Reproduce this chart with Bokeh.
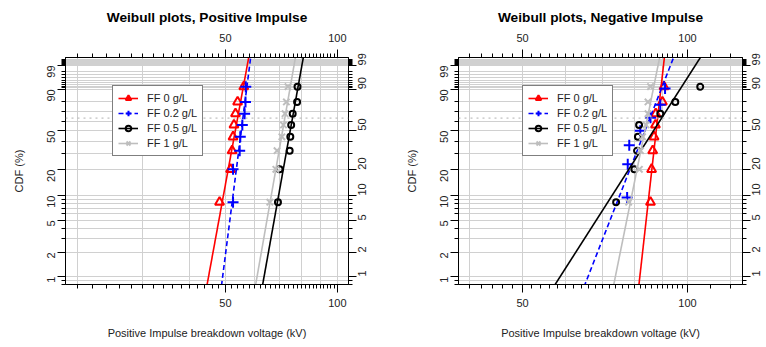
import math

from bokeh.embed import file_html
from bokeh.layouts import row
from bokeh.models import (CustomJSTickFormatter, FixedTicker, Grid, Legend, LegendItem,
                          LinearAxis, LogAxis, LogScale, PrintfTickFormatter, Range1d, Span)
from bokeh.plotting import figure
from bokeh.resources import INLINE

FONT = "Liberation Sans"

SERIES = ["FF 0 g/L", "FF 0.2 g/L", "FF 0.5 g/L", "FF 1 g/L"]
COLORS = ["#ff0000", "#0000ff", "#000000", "#bebebe"]
MARKERS = ["triangle", "cross", "circle", "x"]
MARKER_SIZES = [9, 11, 6, 9]
DASHES = ["solid", "5 3", "solid", "solid"]

# Breakdown voltages (kV), positive impulse, sorted ascending
POS_FF0 = [48.2, 51.6, 52.1, 52.4, 52.7, 53.2, 53.9, 56.0]
POS_FF02 = [52.4, 52.4, 54.6, 54.8, 55.5, 56.3, 56.6, 56.7]
POS_FF05 = [69.2, 69.9, 74.4, 74.7, 75.1, 75.8, 77.9, 78.1]
POS_FF1 = [65.8, 68.3, 68.8, 70.9, 71.6, 72.3, 72.9, 73.6]

# Breakdown voltages (kV), negative impulse, sorted ascending
NEG_FF0 = [85.6, 86.0, 86.4, 86.9, 87.4, 87.5, 90.0, 90.6]
NEG_FF02 = [77.6, 77.8, 78.3, 82.0, 85.6, 89.2, 91.0]
NEG_FF05 = [74.1, 80.0, 80.9, 81.2, 81.6, 89.2, 95.0, 105.5]
NEG_FF1 = [78.1, 81.7, 82.1, 82.8, 84.0, 84.7, 84.7, 85.6]

# Fitted two-parameter Weibull lines: shape (beta) and scale (eta, kV)
POS_SHAPE = [25.6, 36.7, 26.2, 26.8]
POS_SCALE = [53.9, 55.7, 75.7, 72.2]
NEG_SHAPE = [61.7, 17.7, 10.8, 34.2]
NEG_SCALE = [88.2, 85.4, 89.7, 84.5]

# Probability axis (percent)
CDF_LABELLED = [1, 2, 5, 10, 20, 50, 90, 99]
CDF_GRID = ([0.8, 0.9] + list(range(1, 10)) + list(range(10, 100, 10))
            + list(range(91, 100)) + [99.1, 99.2, 99.3, 99.4, 99.5, 99.6, 99.7])

# Voltage axis (kV)
KV_LABELLED = [50, 100]
KV_MINOR = list(range(20, 101, 2)) + [110, 120]
KV_GRID = [20, 30, 40, 50, 60, 70, 80, 90, 100, 120]

FRAME_H = 227


def wb(pct):
    """Weibull probability-paper coordinate of a cumulative percentage."""
    return math.log(-math.log(1.0 - pct / 100.0))


W_BOT, W_TOP = -4.832, 1.759


def benard(n):
    return [100.0 * (i + 1 - 0.3) / (n + 0.4) for i in range(n)]


def style_axis(ax, label_standoff=6, title_standoff=14):
    ax.axis_line_color = "black"
    ax.major_tick_line_color = "black"
    ax.minor_tick_line_color = "black"
    ax.major_tick_out = 8
    ax.major_tick_in = 0
    ax.minor_tick_out = 4
    ax.minor_tick_in = 0
    ax.major_label_text_font = FONT
    ax.major_label_text_font_size = "11px"
    ax.major_label_text_color = "#222222"
    ax.major_label_standoff = label_standoff
    ax.axis_label_text_font = FONT
    ax.axis_label_text_font_size = "11px"
    ax.axis_label_text_font_style = "normal"
    ax.axis_label_text_color = "#222222"
    ax.axis_label_standoff = title_standoff


def panel(title, groups, shapes, scales, xr, border_left, border_right, frame_w, legend_x):
    kv_ticker = FixedTicker(ticks=KV_LABELLED, minor_ticks=KV_MINOR)
    cdf_ticker = FixedTicker(ticks=[wb(q) for q in CDF_LABELLED],
                             minor_ticks=[wb(q) for q in CDF_GRID])
    cdf_fmt = CustomJSTickFormatter(
        code="return String(Math.round(100*(1-Math.exp(-Math.exp(tick)))));")

    p = figure(x_range=Range1d(*xr), y_range=Range1d(W_BOT, W_TOP),
               x_axis_type=None, y_axis_type=None,
               frame_width=frame_w, frame_height=FRAME_H,
               min_border_left=border_left, min_border_right=border_right,
               min_border_top=57, min_border_bottom=63,
               output_backend="svg", toolbar_location=None,
               background_fill_color="white", border_fill_color="white",
               outline_line_color="black", outline_line_width=1)
    p.x_scale = LogScale()

    p.title.text = title
    p.title.align = "center"
    p.title.text_font = FONT
    p.title.text_font_size = "13.7px"
    p.title.text_font_style = "bold"
    p.title.text_color = "black"
    p.title.standoff = 11

    bottom = LogAxis(ticker=kv_ticker, formatter=PrintfTickFormatter(format="%d"),
                     axis_label="Positive Impulse breakdown voltage (kV)")
    top = LogAxis(ticker=kv_ticker, formatter=PrintfTickFormatter(format="%d"))
    left_ax = LinearAxis(ticker=cdf_ticker, formatter=cdf_fmt, axis_label="CDF (%)",
                         major_label_orientation=math.pi / 2)
    right_ax = LinearAxis(ticker=cdf_ticker, formatter=cdf_fmt,
                          major_label_orientation=math.pi / 2)
    style_axis(bottom, 6, 17)
    style_axis(top, 8, 0)
    style_axis(left_ax, 6, 16)
    style_axis(right_ax, 6, 0)
    p.add_layout(bottom, "below")
    p.add_layout(top, "above")
    p.add_layout(left_ax, "left")
    p.add_layout(right_ax, "right")

    xg = Grid(dimension=0, ticker=FixedTicker(ticks=KV_GRID))
    yg = Grid(dimension=1, ticker=FixedTicker(ticks=[wb(q) for q in CDF_GRID]))
    for g in [xg, yg]:
        g.grid_line_color = "#d0d0d0"
        g.grid_line_width = 1
        p.add_layout(g, "center")

    # characteristic-life level (63.2 %)
    p.add_layout(Span(location=0.0, dimension="width", line_color="#b0b0b0",
                      line_dash="dotted", line_width=1))

    items = []
    for k, volts in enumerate(groups):
        ranks = [wb(q) for q in benard(len(volts))]
        ws = [W_BOT - 0.5, W_TOP + 0.5]
        vs = [scales[k] * math.exp(w / shapes[k]) for w in ws]
        lr = p.line(vs, ws, line_color=COLORS[k], line_width=1.6, line_dash=DASHES[k])
        sr = p.scatter(volts, ranks, marker=MARKERS[k], size=MARKER_SIZES[k],
                       line_color=COLORS[k], fill_color=None, line_width=2)
        items.append(LegendItem(label=SERIES[k], renderers=[lr, sr]))

    legend = Legend(items=items, location=(legend_x, 128),
                    label_text_font=FONT, label_text_font_size="11px",
                    label_text_color="#222222",
                    glyph_width=20, glyph_height=14, label_height=14,
                    label_standoff=9, spacing=1, padding=5, margin=0,
                    border_line_color="black", border_line_width=1,
                    background_fill_color="white", background_fill_alpha=1.0)
    p.add_layout(legend)
    return p


left = panel("Weibull plots, Positive Impulse",
             [POS_FF0, POS_FF02, POS_FF05, POS_FF1], POS_SHAPE, POS_SCALE,
             (18.57, 107.1), 65, 35, 283, 47)
right = panel("Weibull plots, Negative Impulse",
              [NEG_FF0, NEG_FF02, NEG_FF05, NEG_FF1], NEG_SHAPE, NEG_SCALE,
              (38.21, 126.0), 75, 24, 284, 64)

layout = row(left, right)
open("out.html", "w").write(file_html(layout, INLINE))
